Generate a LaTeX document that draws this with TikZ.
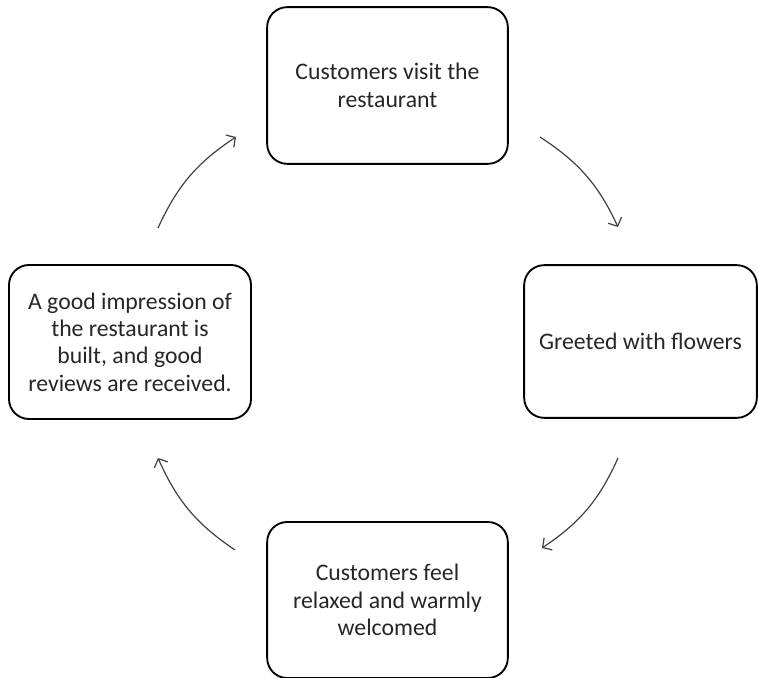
\documentclass[tikz,border=0pt]{standalone}
\usepackage{fontspec}
\setmainfont{Carlito}
\usetikzlibrary{arrows.meta}

\begin{document}
\begin{tikzpicture}[x=0.75pt,y=-0.75pt,
    stage/.style={draw, line width=1.4pt, rounded corners=15pt, align=center,
        text=black!85, font=\fontsize{17.8}{20.5}\selectfont},
    cyc/.style={draw=black!75, line width=0.9pt, -{Straight Barb[length=5pt,width=11pt]}}]
\useasboundingbox (0,0) rectangle (758,678);
\node[stage, minimum width=180.5pt, minimum height=117.5pt] (visit) at (387.5,85.5) {Customers visit the\\restaurant};
\node[stage, minimum width=174.5pt, minimum height=114.5pt] (flowers) at (640.5,341.5) {Greeted with flowers};
\node[stage, minimum width=180.5pt, minimum height=117pt] (relaxed) at (387.5,600) {Customers feel\\relaxed and warmly\\welcomed};
\node[stage, minimum width=181.5pt, minimum height=115.5pt] (reviews) at (130,342) {A good impression of\\the restaurant is\\built, and good\\reviews are received.};
% arrow ends
\coordinate (a1) at (540,137);
\coordinate (b1) at (618,227);
\coordinate (a2) at (618,458);
\coordinate (b2) at (542,548);
\coordinate (a3) at (235,550);
\coordinate (b3) at (158,458);
\coordinate (a4) at (158,228);
\coordinate (b4) at (236,137);
\draw[cyc] (a1) to[bend left=16] (b1);
\draw[cyc] (a2) to[bend left=16] (b2);
\draw[cyc] (a3) to[bend left=16] (b3);
\draw[cyc] (a4) to[bend left=16] (b4);
\end{tikzpicture}
\end{document}
